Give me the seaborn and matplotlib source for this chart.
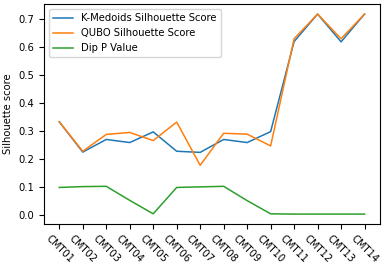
import pandas as pd
import matplotlib
matplotlib.use('Agg')
import matplotlib.pyplot as plt
import seaborn as sns

categories = ['CMT01', 'CMT02', 'CMT03', 'CMT04', 'CMT05', 'CMT06', 'CMT07',
              'CMT08', 'CMT09', 'CMT10', 'CMT11', 'CMT12', 'CMT13', 'CMT14']
kmedoids = [0.332, 0.224, 0.269, 0.258, 0.296, 0.227, 0.223,
            0.269, 0.258, 0.297, 0.618, 0.716, 0.617, 0.716]
qubo = [0.332, 0.227, 0.287, 0.294, 0.265, 0.331, 0.177,
        0.291, 0.288, 0.246, 0.628, 0.716, 0.628, 0.716]
dip_p = [0.098, 0.101, 0.102, 0.052, 0.004, 0.098, 0.100,
         0.102, 0.051, 0.004, 0.003, 0.003, 0.003, 0.003]

series_names = ['K-Medoids Silhouette Score', 'QUBO Silhouette Score', 'Dip P Value']

df = pd.DataFrame({
    'cmt': categories * 3,
    'value': kmedoids + qubo + dip_p,
    'series': sum([[n] * len(categories) for n in series_names], [])
})

fig, ax = plt.subplots(figsize=(3.86, 2.70), dpi=100)
sns.lineplot(data=df, x='cmt', y='value', hue='series', sort=False,
             palette=['#1f77b4', '#ff7f0e', '#2ca02c'], linewidth=1.1, ax=ax)

ax.set_xlabel('')
ax.set_ylabel('Silhouette score', fontsize=7.2)
ax.tick_params(labelsize=7.2)
plt.setp(ax.get_xticklabels(), rotation=-45)
ax.legend(title=None, fontsize=7.2, loc='upper left')

plt.subplots_adjust(left=0.114, right=0.984, top=0.985, bottom=0.17)
plt.savefig('out.png', dpi=100)
